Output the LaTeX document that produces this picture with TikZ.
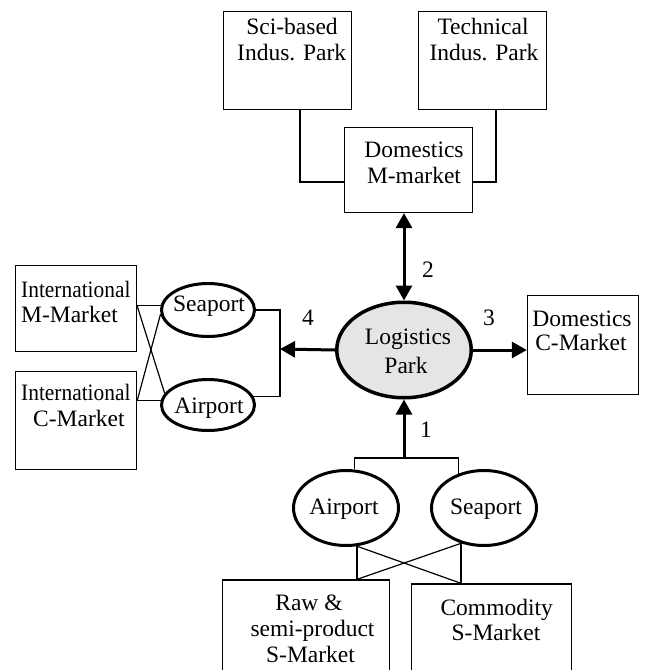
\documentclass[tikz,border=0pt]{standalone}
\usepackage{fontspec}
\setmainfont{Liberation Serif}
\usetikzlibrary{arrows.meta,shapes.geometric}
\begin{document}
\begin{tikzpicture}[x=1pt,y=-1pt,
  box/.style={draw, rectangle, line width=1.3pt, inner sep=0pt},
  port/.style={draw, ellipse, line width=3pt, inner sep=0pt},
  txt/.style={inner sep=0pt, anchor=base, font=\fontsize{23.5}{26}\selectfont},
  link/.style={line width=1.2pt},
  flow/.style={line width=3pt, -{Triangle[length=15pt,width=16pt]}},
  both/.style={line width=3pt, {Triangle[length=15pt,width=16pt]}-{Triangle[length=15pt,width=16pt]}},
]
\useasboundingbox (0,0) rectangle (645,670);
\clip (0,0) rectangle (645,670);

% industrial parks and the domestic manufacturing market
\node[box, minimum width=128pt, minimum height=98pt] (sci) at (287.4,60.4) {};
\node[box, minimum width=128pt, minimum height=98pt] (tech) at (482.5,60.5) {};
\node[box, minimum width=128pt, minimum height=85pt] (dmm) at (408.5,170) {};

% logistics park hub
\node[draw, ellipse, fill=gray!20, line width=3.5pt, inner sep=0pt,
      minimum width=134.5pt, minimum height=95.5pt] (lp) at (404,350) {};

% domestic consumer market
\node[box, minimum width=111pt, minimum height=99pt] (dcm) at (583,345) {};

% international markets and their ports
\node[box, minimum width=121pt, minimum height=86pt] (imm) at (76,308.5) {};
\node[box, minimum width=121pt, minimum height=98pt] (icm) at (76,420.5) {};
\node[port, minimum width=93pt, minimum height=53pt] (sea1) at (208,310) {};
\node[port, minimum width=93pt, minimum height=51pt] (air1) at (208,405) {};

% supply side ports and markets
\node[port, minimum width=105pt, minimum height=75pt] (air2) at (346,508) {};
\node[port, minimum width=105pt, minimum height=75pt] (sea2) at (484,508) {};
\node[box, minimum width=167pt, minimum height=120pt] (raw) at (306,640) {};
\node[box, minimum width=160pt, minimum height=116pt] (com) at (491.5,642) {};

% texts
\node[txt] (t-sci-a) at (292,34) {Sci-based};
\node[txt] (t-sci-b) at (291.7,60) {Indus. Park};
\node[txt] (t-tech-a) at (483,34) {Technical};
\node[txt] (t-tech-b) at (484,60) {Indus. Park};
\node[txt] (t-dmm-a) at (414,157) {Domestics};
\node[txt] (t-dmm-b) at (414,183) {M-market};
\node[txt] (t-lp-a) at (408,344) {Logistics};
\node[txt] (t-lp-b) at (406,373) {Park};
\node[txt] (t-dcm-a) at (582,326) {Domestics};
\node[txt] (t-dcm-b) at (581,350) {C-Market};
\node[txt, anchor=base west] (t-imm-a) at (21,297) {\scalebox{0.91}[1]{International}};
\node[txt, anchor=base west] (t-imm-b) at (21,322) {M-Market};
\node[txt, anchor=base west] (t-icm-a) at (21,400) {\scalebox{0.91}[1]{International}};
\node[txt, anchor=base west] (t-icm-b) at (33,426) {C-Market};
\node[txt] (t-sea1) at (209,311) {Seaport};
\node[txt] (t-air1) at (209,413) {Airport};
\node[txt] (t-air2) at (344,514) {Airport};
\node[txt] (t-sea2) at (486,514) {Seaport};
\node[txt] (t-raw-a) at (309,610) {Raw \&};
\node[txt] (t-raw-b) at (312.5,636) {semi-product};
\node[txt] (t-raw-c) at (310.5,662) {S-Market};
\node[txt] (t-com-a) at (496.7,615) {Commodity};
\node[txt] (t-com-b) at (496,640) {S-Market};

% flow numbers
\node[txt] (n1) at (426,437) {1};
\node[txt] (n2) at (428,277) {2};
\node[txt] (n3) at (489,325) {3};
\node[txt] (n4) at (308,325) {4};

% thin connectors
\coordinate (e1) at (300,182);
\coordinate (e2) at (496,182);
\draw[link] (sci.south -| e1) |- (dmm.west |- e1);
\draw[link] (tech.south -| e2) |- (dmm.east |- e2);

\coordinate (b4) at (280,349);
\draw[link] (sea1.east) -| (b4) |- (air1.11);
\draw[link] (imm.east |- sea1.175) -- (sea1.175);
\draw[link] (icm.east |- air1.175) -- (air1.175);
\draw[link] (imm.east |- sea1.175) -- (air1.165);
\draw[link] (icm.east |- air1.175) -- (sea1.185);

\coordinate (bc) at (404,458);
\draw[link] (air2.78) |- (bc) -| (sea2.127);
\draw[link] (air2.-74) -- (air2.-74 |- raw.north);
\draw[link] (sea2.-123) -- (sea2.-123 |- com.north);
\draw[link] (air2.-74) -- (sea2.-123 |- com.north);
\draw[link] (sea2.-123) -- (air2.-74 |- raw.north);

% main flows
\draw[flow] (bc) -- (lp.south);
\draw[both] (lp.north |- dmm.south) -- (lp.north);
\draw[flow] (lp.east) -- (lp.east -| dcm.west);
\draw[flow] (lp.west) -- (b4);
\end{tikzpicture}
\end{document}
